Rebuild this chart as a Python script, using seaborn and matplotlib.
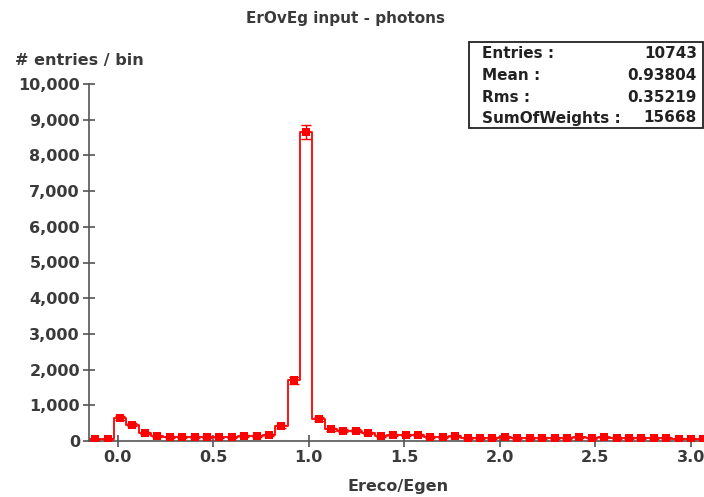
import numpy as np
import pandas as pd
import matplotlib
matplotlib.use("Agg")
import matplotlib.pyplot as plt
import seaborn as sns
from matplotlib.patches import Rectangle
from matplotlib.ticker import FuncFormatter, MultipleLocator

# ---- data ----
bin_lo, bin_hi, n_bins = -0.15, 3.10, 50
counts = [50, 50, 650, 460, 230, 140, 120, 120, 120, 120,
          100, 100, 130, 140, 170, 410, 1700, 8650, 610, 330,
          290, 290, 220, 130, 180, 180, 180, 120, 110, 150,
          90, 90, 90, 110, 90, 90, 90, 80, 80, 100,
          80, 100, 80, 80, 80, 80, 80, 70, 70, 70]
errors = [20, 20, 60, 50, 35, 25, 25, 25, 25, 25,
          20, 20, 25, 25, 30, 50, 90, 200, 60, 40,
          35, 35, 30, 25, 30, 30, 30, 25, 25, 30,
          20, 20, 20, 25, 20, 20, 20, 20, 20, 20,
          20, 20, 20, 20, 20, 20, 20, 20, 20, 20]
stats_labels = ["Entries :", "Mean :", "Rms :", "SumOfWeights :"]
stats_values = ["10743", "0.93804", "0.35219", "15668"]
title = "ErOvEg input - photons"
xlabel = "Ereco/Egen"
ylabel = "# entries / bin"

edges = np.linspace(bin_lo, bin_hi, n_bins + 1)
centers = 0.5 * (edges[:-1] + edges[1:])
df = pd.DataFrame({"x": centers, "w": counts, "err": errors})

sns.set_theme(style="white")
plt.rcParams["font.family"] = ["DejaVu Sans"]
txt = "#3a3a3a"

fig = plt.figure(figsize=(7.04, 4.97), dpi=100)
W, H = 704, 497
ax = fig.add_axes([89 / W, 1 - 441 / H, (709.7 - 89) / W, (441 - 84) / H])

sns.histplot(data=df, x="x", weights="w", bins=n_bins, binrange=(bin_lo, bin_hi),
             element="step", fill=False, color="#ff0000", linewidth=1.3, ax=ax)
ax.errorbar(df["x"], df["w"], yerr=df["err"], fmt="none", ecolor="#ff0000",
            elinewidth=1.0, capsize=3.5, capthick=1.0, zorder=3)
sns.scatterplot(data=df, x="x", y="w", marker="s", s=34, color="#ff0000",
                edgecolor="#ff0000", linewidth=0, ax=ax, zorder=4)

ax.set_xlim(bin_lo, bin_hi)
ax.set_ylim(0, 10000)
ax.xaxis.set_major_locator(MultipleLocator(0.5))
ax.yaxis.set_major_locator(MultipleLocator(1000))
ax.xaxis.set_major_formatter(FuncFormatter(lambda v, p: f"{v:.1f}"))
ax.yaxis.set_major_formatter(FuncFormatter(lambda v, p: f"{int(round(v)):,}"))
ax.set_xlabel("")
ax.set_ylabel("")

for s in ["top", "right"]:
    ax.spines[s].set_visible(False)
for s in ["left", "bottom"]:
    ax.spines[s].set_color("#555555")
    ax.spines[s].set_linewidth(1.2)
ax.tick_params(axis="both", which="major", direction="inout", length=9,
               width=1.2, color="#555555", labelcolor=txt, labelsize=11.5,
               pad=2, left=True, bottom=True)
for lab in ax.get_xticklabels() + ax.get_yticklabels():
    lab.set_fontweight("bold")

fig.text(345 / W, 1 - 18 / H, title, ha="center", va="center",
         fontsize=11, fontweight="bold", color=txt)
fig.text(15 / W, 1 - 60 / H, ylabel, ha="left", va="center",
         fontsize=11.5, fontweight="bold", color=txt)
fig.text(398 / W, 1 - 487 / H, xlabel, ha="center", va="center",
         fontsize=11.5, fontweight="bold", color=txt)

# stats box
bx0, by0, bx1, by1 = 469, 42, 703, 128
fig.patches.append(Rectangle((bx0 / W, 1 - by1 / H), (bx1 - bx0) / W,
                             (by1 - by0) / H, transform=fig.transFigure,
                             facecolor="white", edgecolor="#222222",
                             linewidth=1.3, zorder=10))
ys = [54, 75, 97, 118]
for lab, val, yy in zip(stats_labels, stats_values, ys):
    fig.text(482 / W, 1 - yy / H, lab, ha="left", va="center", fontsize=11,
             fontweight="bold", color="#222222", zorder=11)
    fig.text(697 / W, 1 - yy / H, val, ha="right", va="center", fontsize=11,
             fontweight="bold", color="#222222", zorder=11)

fig.savefig("out.png", dpi=100)
